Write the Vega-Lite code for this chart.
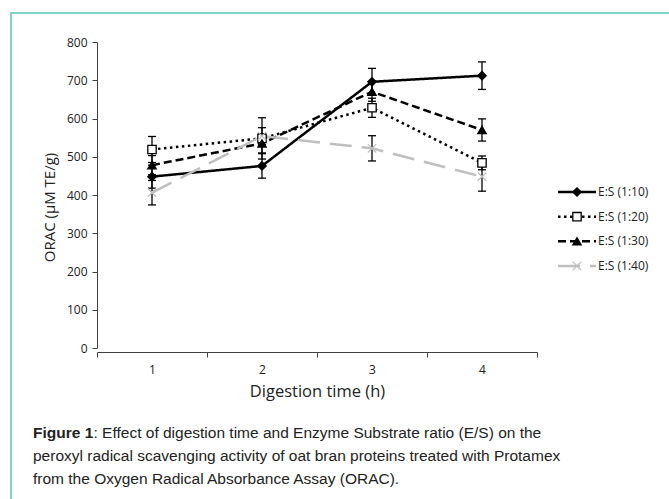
{
  "$schema": "https://vega.github.io/schema/vega-lite/v6.json",
  "autosize": {"type": "fit", "contains": "padding"},
  "width": 669,
  "height": 499,
  "padding": {"left": 11, "top": 13, "right": -4, "bottom": -4},
  "background": "white",
  "config": {"view": {"stroke": "#55c7b5", "strokeWidth": 1.5}, "font": "Open Sans"},
  "datasets": {
    "main": [
      {"t": "1", "s": "E:S (1:10)", "v": 448, "lo": 418, "hi": 478},
      {"t": "2", "s": "E:S (1:10)", "v": 476, "lo": 444, "hi": 508},
      {"t": "3", "s": "E:S (1:10)", "v": 696, "lo": 661, "hi": 731},
      {"t": "4", "s": "E:S (1:10)", "v": 712, "lo": 676, "hi": 748},
      {"t": "1", "s": "E:S (1:20)", "v": 519, "lo": 485, "hi": 553},
      {"t": "2", "s": "E:S (1:20)", "v": 548, "lo": 494, "hi": 602},
      {"t": "3", "s": "E:S (1:20)", "v": 628, "lo": 603, "hi": 653},
      {"t": "4", "s": "E:S (1:20)", "v": 484, "lo": 466, "hi": 502},
      {"t": "1", "s": "E:S (1:30)", "v": 478, "lo": 453, "hi": 503},
      {"t": "2", "s": "E:S (1:30)", "v": 535, "lo": 510, "hi": 560},
      {"t": "3", "s": "E:S (1:30)", "v": 670, "lo": 645, "hi": 695},
      {"t": "4", "s": "E:S (1:30)", "v": 570, "lo": 541, "hi": 599},
      {"t": "1", "s": "E:S (1:40)", "v": 406, "lo": 374, "hi": 438},
      {"t": "2", "s": "E:S (1:40)", "v": 554, "lo": 532, "hi": 576},
      {"t": "3", "s": "E:S (1:40)", "v": 522, "lo": 489, "hi": 555},
      {"t": "4", "s": "E:S (1:40)", "v": 448, "lo": 410, "hi": 486}
    ],
    "legend": [
      {"s": "E:S (1:10)"},
      {"s": "E:S (1:20)"},
      {"s": "E:S (1:30)"},
      {"s": "E:S (1:40)"}
    ],
    "caption": [
      {"line": 1, "part": "b", "text": "Figure 1"},
      {"line": 1, "part": "r1", "text": ": Effect of digestion time and Enzyme Substrate ratio (E/S) on the"},
      {"line": 2, "part": "r", "text": "peroxyl radical scavenging activity of oat bran proteins treated with Protamex"},
      {"line": 3, "part": "r", "text": "from the Oxygen Radical Absorbance Assay (ORAC)."}
    ]
  },
  "layer": [
    {
      "data": {"name": "main"},
      "encoding": {
        "x": {
          "field": "t", "type": "ordinal",
          "scale": {"type": "band", "domain": ["1", "2", "3", "4"], "range": [86, 526], "paddingInner": 0, "paddingOuter": 0},
          "axis": {"title": "Digestion time (h)", "offset": -151, "tickBand": "extent", "labelAngle": 0, "grid": false,
            "domainColor": "#404040", "domainWidth": 1, "tickColor": "#404040", "tickSize": 5,
            "labelFontSize": 12, "labelColor": "#222222", "labelPadding": 7, "labelFont": "Open Sans",
            "titleFontSize": 16.5, "titleFontWeight": "normal", "titleColor": "#222222", "titlePadding": 8, "titleFont": "Open Sans"}
        }
      },
      "layer": [
        {
          "mark": {"type": "rule", "color": "#000", "strokeWidth": 1.3},
          "encoding": {
            "y": {
              "field": "lo", "type": "quantitative",
              "scale": {"domain": [0, 800], "range": [335, 29], "nice": false, "zero": false},
              "axis": {"title": "ORAC (µM TE/g)", "offset": -86, "values": [0, 100, 200, 300, 400, 500, 600, 700, 800], "grid": false,
                "domainColor": "#404040", "tickColor": "#404040", "tickSize": 5,
                "labelFontSize": 12, "labelColor": "#222222", "labelPadding": 5, "labelFont": "Open Sans",
                "titleFontSize": 15, "titleFontWeight": "normal", "titleColor": "#222222", "titlePadding": 9, "titleFont": "Open Sans", "titleY": 194}
            },
            "y2": {"field": "hi"}
          }
        },
        {
          "mark": {"type": "tick", "color": "#000", "size": 8, "thickness": 1.3, "opacity": 1},
          "encoding": {"y": {"field": "lo", "type": "quantitative"}}
        },
        {
          "mark": {"type": "tick", "color": "#000", "size": 8, "thickness": 1.3, "opacity": 1},
          "encoding": {"y": {"field": "hi", "type": "quantitative"}}
        },
        {
          "mark": {"type": "line", "strokeWidth": 2.5},
          "encoding": {
            "y": {"field": "v", "type": "quantitative"},
            "stroke": {"field": "s", "type": "nominal", "scale": {"domain": ["E:S (1:10)", "E:S (1:20)", "E:S (1:30)", "E:S (1:40)"], "range": ["#000000", "#000000", "#000000", "#bfbfbf"]}, "legend": null},
            "strokeDash": {"field": "s", "type": "nominal", "scale": {"domain": ["E:S (1:10)", "E:S (1:20)", "E:S (1:30)", "E:S (1:40)"], "range": [[1, 0], [2.5, 3.5], [8, 4], [22, 10]]}, "legend": null}
          }
        },
        {
          "mark": {"type": "point", "opacity": 1, "strokeWidth": 1.3, "size": 70},
          "encoding": {
            "y": {"field": "v", "type": "quantitative"},
            "stroke": {"field": "s", "type": "nominal", "legend": null},
            "fill": {"field": "s", "type": "nominal", "scale": {"domain": ["E:S (1:10)", "E:S (1:20)", "E:S (1:30)", "E:S (1:40)"], "range": ["#000000", "#ffffff", "#000000", "transparent"]}, "legend": null},
            "shape": {"field": "s", "type": "nominal", "scale": {"domain": ["E:S (1:10)", "E:S (1:20)", "E:S (1:30)", "E:S (1:40)"], "range": ["diamond", "square", "triangle-up", "M-1,-1L1,1M-1,1L1,-1"]}, "legend": null}
          }
        }
      ]
    },
    {
      "data": {"name": "legend"},
      "encoding": {
        "y": {"field": "s", "type": "nominal", "scale": {"type": "point", "domain": ["E:S (1:10)", "E:S (1:20)", "E:S (1:30)", "E:S (1:40)"], "range": [179, 253], "padding": 0}, "axis": null}
      },
      "layer": [
        {
          "mark": {"type": "rule", "strokeWidth": 2.5},
          "encoding": {
            "x": {"datum": 0, "type": "quantitative", "scale": {"domain": [0, 1], "range": [547, 585], "nice": false, "zero": false}, "axis": null},
            "x2": {"datum": 1},
            "stroke": {"field": "s", "type": "nominal", "legend": null},
            "strokeDash": {"field": "s", "type": "nominal", "legend": null}
          }
        },
        {
          "mark": {"type": "point", "opacity": 1, "strokeWidth": 1.3, "size": 70},
          "encoding": {
            "x": {"datum": 0.5, "type": "quantitative"},
            "stroke": {"field": "s", "type": "nominal", "legend": null},
            "fill": {"field": "s", "type": "nominal", "legend": null},
            "shape": {"field": "s", "type": "nominal", "legend": null}
          }
        },
        {
          "mark": {"type": "text", "align": "left", "baseline": "middle", "dx": 2, "fontSize": 12, "font": "Open Sans", "color": "#222222"},
          "encoding": {
            "x": {"datum": 1, "type": "quantitative"},
            "text": {"field": "s", "type": "nominal"}
          }
        }
      ]
    },
    {
      "data": {"name": "caption"},
      "encoding": {
        "y": {"field": "line", "type": "quantitative", "scale": {"domain": [1, 3], "range": [420, 466], "nice": false, "zero": false}, "axis": null},
        "x": {"datum": 0, "type": "quantitative", "scale": {"domain": [0, 1], "range": [22, 630], "nice": false, "zero": false}, "axis": null},
        "text": {"field": "text", "type": "nominal"}
      },
      "layer": [
        {
          "transform": [{"filter": "datum.part == 'b'"}],
          "mark": {"type": "text", "align": "left", "baseline": "middle", "font": "Liberation Sans", "fontSize": 15.5, "fontWeight": "bold", "color": "#222222"}
        },
        {
          "transform": [{"filter": "datum.part == 'r1'"}],
          "mark": {"type": "text", "align": "left", "baseline": "middle", "dx": 60.5, "font": "Liberation Sans", "fontSize": 15.5, "color": "#222222"}
        },
        {
          "transform": [{"filter": "datum.part == 'r'"}],
          "mark": {"type": "text", "align": "left", "baseline": "middle", "font": "Liberation Sans", "fontSize": 15.5, "color": "#222222"}
        }
      ]
    }
  ],
  "resolve": {"scale": {"x": "independent", "y": "independent"}, "axis": {"x": "independent", "y": "independent"}}
}
